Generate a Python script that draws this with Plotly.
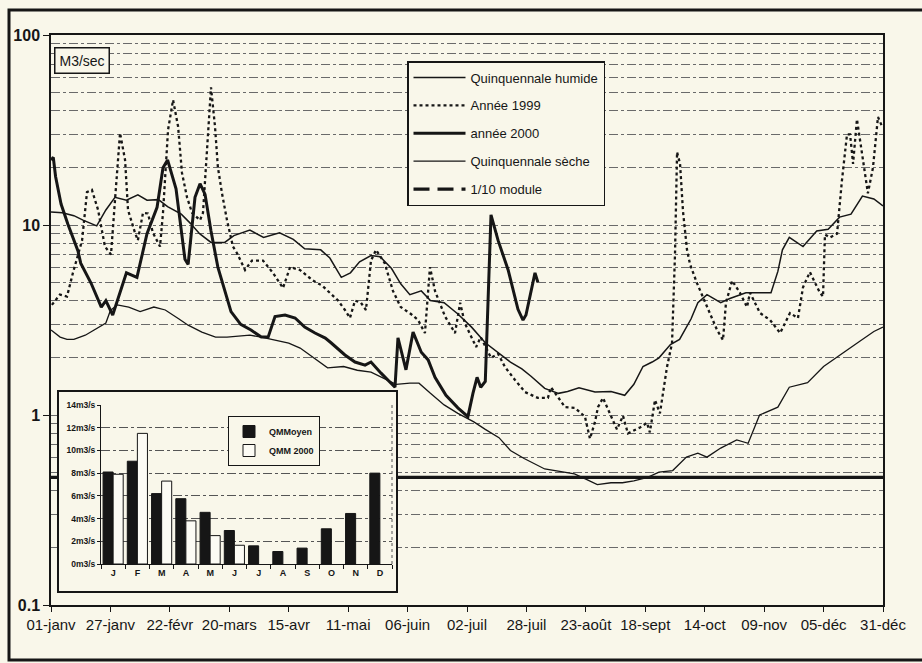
import plotly.graph_objects as go

# ---------------- data ----------------
day_ticks = [0, 26, 52, 78, 104, 130, 156, 182, 208, 234, 260, 286, 312, 338, 364]
day_labels = ["01-janv", "27-janv", "22-févr", "20-mars", "15-avr", "11-mai", "06-juin",
              "02-juil", "28-juil", "23-août", "18-sept", "14-oct", "09-nov", "05-déc", "31-déc"]

hum_day = [0, 5, 10, 14, 20, 24, 28, 33, 38, 42, 47, 51, 57, 61, 65, 70, 76, 80, 87, 93,
           100, 106, 111, 118, 122, 127, 131, 135, 140, 144, 149, 153, 157, 162, 166, 172, 178, 184, 190, 196,
           201, 206, 210, 216, 222, 226, 231, 238, 245, 251, 255, 259, 263, 266, 271, 275, 280, 283, 287, 293,
           297, 304, 310, 315, 318, 320, 323, 329, 335, 340, 345, 350, 355, 360, 364]
hum_q = [11.7, 11.6, 11.2, 10.6, 9.9, 12, 14, 13.5, 14.4, 13.5, 13.6, 12.5, 11.4, 10.2, 9.0, 8.1, 8.1, 8.8, 9.4, 8.6,
         9.1, 8.4, 7.5, 7.4, 6.7, 5.3, 5.6, 6.4, 6.9, 6.8, 5.9, 4.9, 4.3, 4.5, 4.0, 3.9, 3.4, 2.9, 2.4, 2.1,
         1.9, 1.75, 1.6, 1.38, 1.3, 1.33, 1.39, 1.32, 1.33, 1.27, 1.45, 1.8, 1.9, 2.0, 2.35, 2.5, 3.2, 3.9, 4.3, 3.9,
         4.1, 4.4, 4.4, 4.4, 5.7, 7.4, 8.6, 7.7, 9.3, 9.5, 11, 11.4, 14.2, 13.7, 12.6]

y99_day = [0.4, 3.9, 7, 9.6, 13.6, 15.75, 17.9, 20.6, 23.6, 26.25,
           28, 30.2, 32.4, 33.7, 36.75, 38, 40.25, 42.4, 44.6, 47.7,
           49, 51.2, 53.4, 55.6, 57.3, 59.5, 61.7, 65.2, 66.5, 68.7,
           70, 71.75, 73, 74.8, 77, 79.6, 81.4, 84.9, 87.9, 92.75,
           97.1, 101.5, 104.6, 108.9, 114.6, 118.6, 122, 125.6, 128.6, 130.8,
           133, 135.6, 137.8, 140, 142.2, 146, 149.6, 153, 157.5, 160.6,
           163.6, 165.8, 168, 172.4, 176.75, 179, 181, 183.75, 186, 188,
           192.5, 195.6, 198.6, 203, 207.4, 213, 217.4, 218.75, 221.8, 224.9,
           229.25, 233.6, 235.8, 238, 239.3, 241.5, 247.6, 250.25, 252.4, 257.7,
           260.75, 262, 264.25, 266.4, 269.5, 271.7, 273, 273.9, 275.2, 276.5,
           278.25, 279.6, 282.6, 287, 291.4, 294, 295.3, 298, 301.4, 304.5,
           305.8, 310.2, 314.6, 319, 321, 323.3, 326.8, 329, 332, 336.4,
           337.75, 338.6, 340.8, 343.9, 346, 348.25, 349.6, 350.9, 352.6, 355.25,
           357.4, 359.6, 361.8, 363.6]
y99_q = [3.8, 4.3, 4.2, 5.6, 8.3, 14.9, 15.3, 12, 7.7, 7.0,
         13.5, 30.5, 22, 12, 9.1, 8.3, 11.6, 11.5, 9.1, 7.7,
         11.6, 31.6, 45.5, 33, 18.8, 14.0, 11.6, 10.6, 11.6, 33,
         53, 33, 20.2, 14.7, 10.6, 7.7, 7.1, 5.8, 6.5, 6.5,
         5.6, 4.66, 6.0, 5.8, 5.1, 4.8, 4.4, 4.0, 3.57, 3.24,
         4.0, 3.9, 3.57, 6.5, 7.4, 6.3, 4.5, 3.7, 3.4, 3.16,
         2.7, 6.0, 4.5, 3.3, 2.7, 3.9, 3.05, 2.57, 2.28, 2.57,
         2.0, 2.1, 1.79, 1.53, 1.32, 1.23, 1.23, 1.4, 1.24, 1.1,
         1.09, 0.98, 0.75, 0.92, 1.1, 1.23, 0.84, 0.99, 0.8, 0.86,
         0.91, 0.81, 1.2, 1.02, 1.79, 2.39, 7, 24.2, 21, 11.8,
         7.4, 6.2, 4.95, 3.7, 2.8, 2.48, 3.9, 5.1, 4.4, 3.7,
         4.4, 3.44, 3.16, 2.7, 3.05, 3.44, 3.24, 4.7, 5.65, 4.4,
         4.2, 8.9, 8.6, 9, 17, 30, 30, 21, 36, 22,
         14.7, 20, 37, 33]

y00_day = [0, 1, 2, 4.4, 7.4, 11.8, 13, 17.5, 22, 24,
           27, 30, 33, 37.6, 42, 46.4, 49, 51, 54.7, 58.6,
           60, 63, 65.2, 67.4, 70, 73, 78.75, 83, 87.5, 92,
           95, 98, 102.4, 106.8, 111, 115.5, 120, 122.5, 128.6, 133,
           137.4, 140, 144.4, 150.5, 151.8, 155.3, 158.4, 162, 165, 168,
           172.8, 178, 182.4, 184.6, 186.4, 188, 190, 192.5, 195.6, 200,
           204.3, 206.5, 207.8, 211.75, 213]
y00_q = [22, 22.7, 18, 12.9, 10.1, 7.3, 6.3, 4.95, 3.7, 4.0,
         3.36, 4.4, 5.6, 5.3, 9.0, 12.4, 20, 22, 15.5, 6.6,
         6.2, 14, 16.5, 14.5, 9.3, 6.0, 3.5, 3.0, 2.8, 2.57,
         2.57, 3.3, 3.36, 3.24, 2.9, 2.7, 2.54, 2.4, 2.07, 1.9,
         1.83, 1.9, 1.66, 1.4, 2.55, 1.73, 2.73, 2.14, 1.95, 1.58,
         1.27, 1.09, 0.98, 1.3, 1.58, 1.4, 1.5, 11.3, 8.3, 5.8,
         3.6, 3.16, 3.36, 5.6, 5.0]

sec_day = [0, 4, 7, 10, 15, 19, 24, 26, 29, 34, 39, 45, 50, 56, 60, 66, 72, 77, 83, 87,
           92, 98, 104, 109, 115, 121, 128, 134, 140, 146, 151, 157, 161, 166, 172, 178, 185, 190, 196, 201,
           207, 216, 225, 229, 234, 239, 245, 250, 255, 261, 266, 272, 278, 283, 287, 293, 300, 305, 310, 318,
           323, 331, 338, 345, 354, 360, 364]
sec_q = [2.8, 2.57, 2.5, 2.5, 2.63, 2.8, 3.05, 3.55, 3.8, 3.7, 3.5, 3.7, 3.57, 3.2, 2.97, 2.73, 2.57, 2.57, 2.6, 2.63,
         2.57, 2.48, 2.39, 2.25, 2.0, 1.77, 1.8, 1.72, 1.68, 1.55, 1.45, 1.47, 1.47, 1.3, 1.13, 1.02, 0.92, 0.84, 0.76, 0.65,
         0.59, 0.52, 0.5, 0.49, 0.46, 0.43, 0.44, 0.44, 0.45, 0.47, 0.5, 0.51, 0.6, 0.63, 0.6, 0.67, 0.74, 0.71, 1.0, 1.1,
         1.4, 1.48, 1.8, 2.07, 2.45, 2.75, 2.9]

module_day = [0, 364]
module_q = [0.47, 0.47]

y_major = [0.1, 1, 10, 100]
y_major_labels = ["0.1", "1", "10", "100"]
y_minor = [m * d for d in (0.1, 1, 10) for m in range(2, 10)]

months = ["J", "F", "M", "A", "M", "J", "J", "A", "S", "O", "N", "D"]
qmm_moyen = [8.1, 9.05, 6.2, 5.75, 4.55, 2.95, 1.6, 1.1, 1.4, 3.1, 4.45, 8.0]
qmm_2000 = [7.9, 11.5, 7.3, 3.8, 2.5, 1.65, None, None, None, None, None, None]
bar_ticks = [0, 2, 4, 6, 8, 10, 12, 14]

# ---------------- layout helpers ----------------
W, H = 922, 663
L, R, T, B = 51, 39, 35, 58
PW, PH = W - L - R, H - T - B


def px(x):
    return (x - L) / PW


def py(y):
    return (H - B - y) / PH


BG = "#F9F7EA"
INK = "#161616"
GRID = "#6a6a6a"
FONT = "Liberation Sans, Arial, sans-serif"

fig = go.Figure()

# real 1/10 module line (drawn first, no legend)
fig.add_trace(go.Scatter(x=module_day, y=module_q, mode="lines", showlegend=False,
                         line=dict(color=INK, width=3.2), hoverinfo="skip"))

fig.add_trace(go.Scatter(x=hum_day, y=hum_q, mode="lines", name="Quinquennale humide",
                         line=dict(color=INK, width=1.5), legendgroup="g1", legendrank=1))
fig.add_trace(go.Scatter(x=y99_day, y=y99_q, mode="lines", name="Année 1999",
                         line=dict(color=INK, width=2.3, dash="3px,3px"), legendgroup="g2", legendrank=2))
fig.add_trace(go.Scatter(x=y00_day, y=y00_q, mode="lines", name="année 2000",
                         line=dict(color=INK, width=3), legendgroup="g3", legendrank=3))
fig.add_trace(go.Scatter(x=sec_day, y=sec_q, mode="lines", name="Quinquennale sèche",
                         line=dict(color=INK, width=1.3), legendgroup="g4", legendrank=4))
# legend sample for the module line
fig.add_trace(go.Scatter(x=[None], y=[None], mode="lines", name="1/10 module",
                         line=dict(color=INK, width=3.2, dash="16px,8px"), legendgroup="g5", legendrank=5))

# cover subplot for the inset box
fig.add_trace(go.Scatter(x=[None], y=[None], xaxis="x2", yaxis="y2", showlegend=False,
                         hoverinfo="skip"))

# inset bars
fig.add_trace(go.Bar(x=list(range(12)), y=qmm_moyen, name="QMMoyen", xaxis="x3", yaxis="y3",
                     marker=dict(color=INK, line=dict(color=INK, width=1)), legend="legend2"))
fig.add_trace(go.Bar(x=list(range(12)), y=qmm_2000, name="QMM 2000", xaxis="x3", yaxis="y3",
                     marker=dict(color="#FCFBF4", line=dict(color=INK, width=1)), legend="legend2"))

fig.update_layout(
    width=W, height=H,
    margin=dict(l=L, r=R, t=T, b=B),
    paper_bgcolor=BG, plot_bgcolor=BG,
    font=dict(family=FONT, color=INK),
    showlegend=True,
    barmode="group", bargap=0.17, bargroupgap=0,
    xaxis=dict(range=[0, 364], tickmode="array", tickvals=day_ticks, ticktext=day_labels,
               showline=True, linecolor=INK, linewidth=1.5, mirror=True,
               ticks="outside", ticklen=5, tickcolor=INK, tickwidth=1.2,
               showgrid=False, zeroline=False, tickfont=dict(size=15, color=INK)),
    yaxis=dict(type="log", range=[-1, 2], tickmode="array", tickvals=y_major, ticktext=y_major_labels,
               showline=True, linecolor=INK, linewidth=1.5, mirror=True,
               ticks="outside", ticklen=6, tickcolor=INK, tickwidth=1.2,
               showgrid=True, gridcolor=GRID, gridwidth=1, griddash="dashdot", zeroline=False,
               minor=dict(tickmode="array", tickvals=y_minor, showgrid=True, gridcolor=GRID,
                          gridwidth=1, griddash="dashdot", ticks=""),
               tickfont=dict(size=16, color=INK, weight="bold")),
    xaxis2=dict(domain=[px(59), px(396)], anchor="y2", range=[0, 1], showline=True, mirror=True,
                linecolor=INK, linewidth=1.5, showticklabels=False, ticks="", showgrid=False,
                zeroline=False, fixedrange=True),
    yaxis2=dict(domain=[py(591), py(392)], anchor="x2", range=[0, 1], showline=True, mirror=True,
                linecolor=INK, linewidth=1.5, showticklabels=False, ticks="", showgrid=False,
                zeroline=False, fixedrange=True),
    xaxis3=dict(domain=[px(101), px(392)], anchor="y3", range=[-0.5, 11.5], tickmode="array",
                tickvals=list(range(12)), ticktext=months, showline=True, linecolor=INK, linewidth=1,
                ticks="", showgrid=False, zeroline=False,
                minor=dict(tick0=-0.5, dtick=1, ticks="outside", ticklen=4, tickcolor=INK),
                tickfont=dict(size=9, color=INK, weight="bold")),
    yaxis3=dict(domain=[py(564), py(405)], anchor="x3", range=[0, 14], tickmode="array",
                tickvals=bar_ticks, ticktext=[f"{v}m3/s" for v in bar_ticks],
                showline=True, linecolor=INK, linewidth=1, ticks="outside", ticklen=3, tickcolor=INK,
                showgrid=True, gridcolor="#555555", gridwidth=1, griddash="dashdot", zeroline=False,
                tickfont=dict(size=8.5, color=INK, weight="bold")),
    legend=dict(x=px(407), y=py(61), xanchor="left", yanchor="top", bgcolor=BG,
                bordercolor=INK, borderwidth=1.5, font=dict(size=13, color=INK),
                itemwidth=52, traceorder="grouped", tracegroupgap=8),
    legend2=dict(x=px(228), y=py(416), xanchor="left", yanchor="top", bgcolor=BG,
                 bordercolor=INK, borderwidth=1, font=dict(size=9, color=INK, weight="bold"),
                 itemwidth=30, tracegroupgap=0),
    annotations=[dict(text="M3/sec", x=px(82), y=py(60), xref="paper", yref="paper",
                      xanchor="center", yanchor="middle",
                      showarrow=False, bordercolor=INK, borderwidth=1.5, borderpad=4,
                      bgcolor=BG, font=dict(size=14, color=INK))],
    shapes=[
        dict(type="rect", xref="paper", yref="paper", x0=px(9), x1=px(935), y0=py(660), y1=py(10),
             line=dict(color=INK, width=3), layer="above"),
        dict(type="line", xref="x3 domain", yref="y3 domain", x0=1, x1=1, y0=0, y1=1,
             line=dict(color="#555555", width=1, dash="dot")),
    ],
)

fig.write_html("out.html", config={"displayModeBar": False},
               post_script="document.body.style.margin='0';document.body.style.overflow='hidden';")
